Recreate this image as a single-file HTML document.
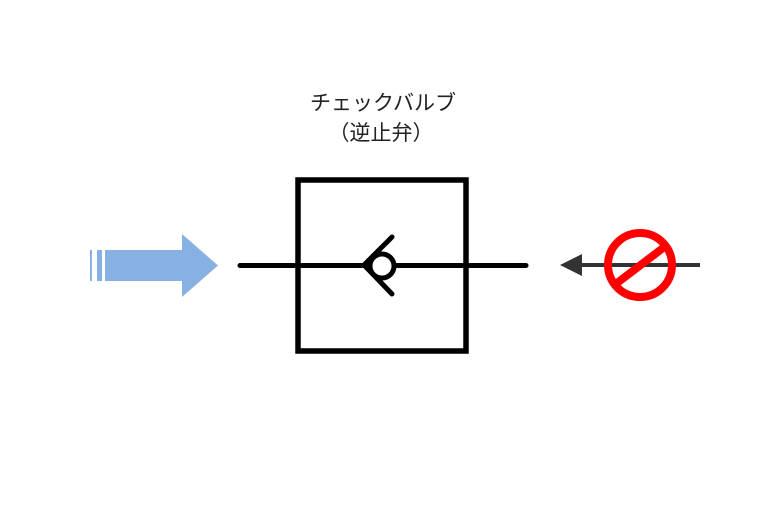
<!DOCTYPE html>
<html><head><meta charset="utf-8"><style>
body{margin:0;background:#fff;width:768px;height:526px;overflow:hidden}
</style></head><body>
<svg width="768" height="526" viewBox="0 0 768 526" xmlns="http://www.w3.org/2000/svg">
<text x="383" y="110" text-anchor="middle" font-family="Liberation Sans, Noto Sans CJK JP, sans-serif" font-size="21" fill="#222">チェックバルブ</text>
<text x="381" y="140" text-anchor="middle" font-family="Liberation Sans, Noto Sans CJK JP, sans-serif" font-size="21" fill="#222">（逆止弁）</text>
<g fill="#88b1e3">
<rect x="90" y="250" width="2" height="31"/>
<rect x="97" y="250" width="5" height="31"/>
<rect x="105" y="250" width="77" height="31"/>
<polygon points="182,234 218,265.5 182,297"/>
</g>
<rect x="298" y="180" width="168" height="171" fill="none" stroke="#000" stroke-width="5.5"/>
<line x1="240" y1="265.5" x2="526" y2="265.5" stroke="#000" stroke-width="5" stroke-linecap="round"/>
<circle cx="382" cy="266" r="12" fill="#fff" stroke="#000" stroke-width="5"/>
<polyline points="392,237 364,265 392,294" fill="none" stroke="#000" stroke-width="5" stroke-linecap="round" stroke-linejoin="round"/>
<line x1="578" y1="265" x2="700" y2="265" stroke="#333" stroke-width="4"/>
<polygon points="560,265 582,254 582,276" fill="#333"/>
<circle cx="640" cy="265" r="32" fill="none" stroke="#f00" stroke-width="8"/>
<line x1="617" y1="283" x2="663" y2="248" stroke="#f00" stroke-width="8"/>
</svg>
</body></html>
